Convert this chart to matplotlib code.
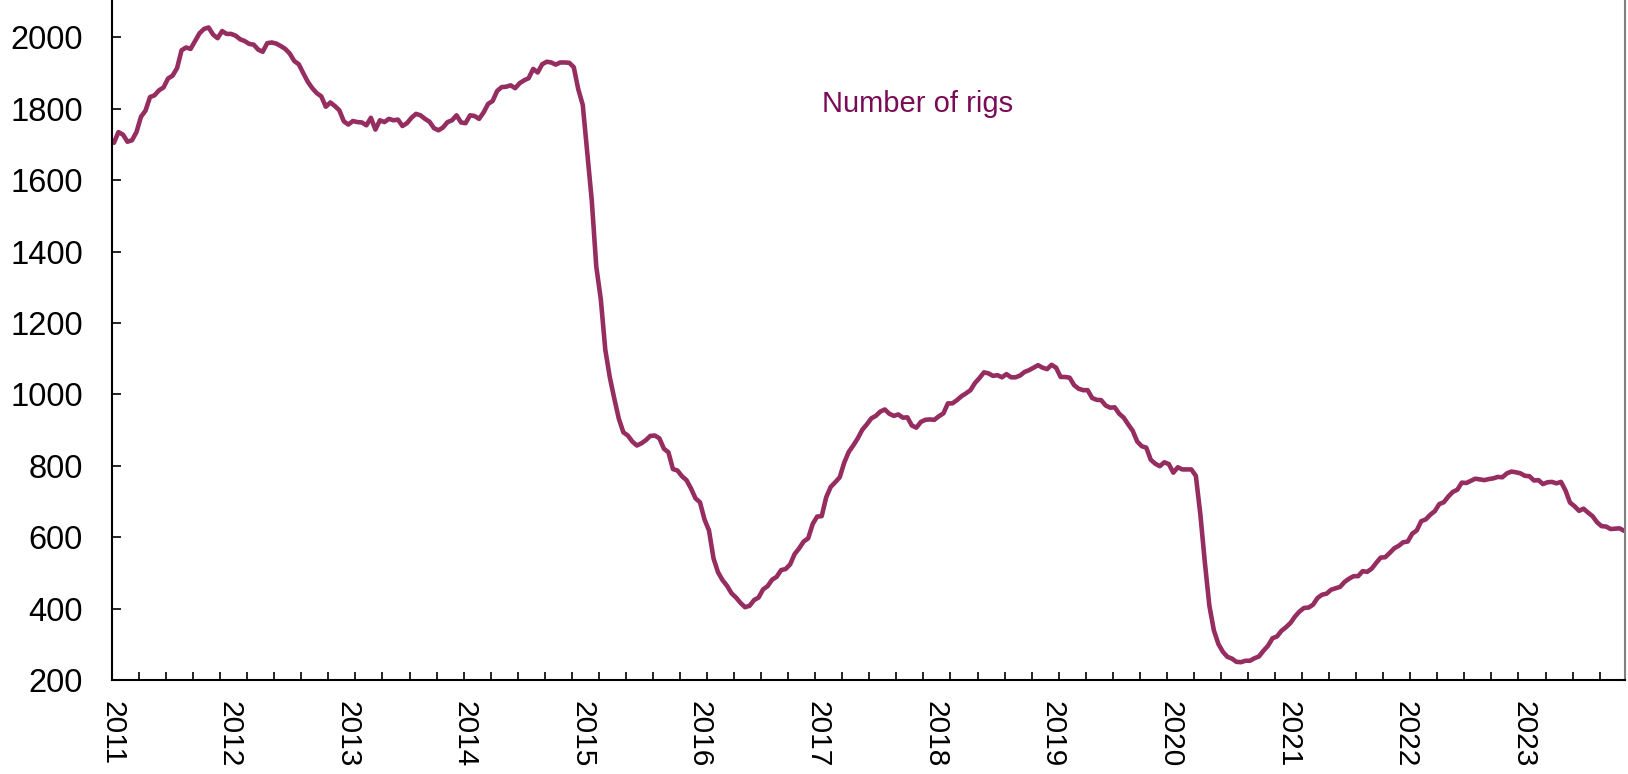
#!/bin/python3

"""
Weekly US rig count, sampled every second report, 2011 to late 2023.
"""

import matplotlib
matplotlib.use("Agg")
import matplotlib.pyplot as plt
import pandas as pd

FIRST_REPORT = "2011-01-07"
REPORT_STEP = "14D"

# One list per year, every second weekly report
RIGS_2011 = [1705, 1735, 1728, 1708, 1712, 1735, 1778, 1795, 1833, 1838, 1852, 1860, 1885,
             1893, 1914, 1964, 1972, 1968, 1990, 2012, 2024, 2028, 2008, 1998, 2018, 2010]
RIGS_2012 = [2010, 2005, 1995, 1990, 1982, 1980, 1966, 1960, 1984, 1986, 1983, 1976, 1968,
             1955, 1934, 1925, 1900, 1876, 1858, 1844, 1835, 1806, 1818, 1808, 1796, 1765]
RIGS_2013 = [1756, 1766, 1763, 1762, 1754, 1775, 1742, 1768, 1763, 1772, 1768, 1770, 1752,
             1760, 1775, 1786, 1782, 1772, 1764, 1746, 1740, 1748, 1763, 1768, 1782, 1762]
RIGS_2014 = [1760, 1782, 1780, 1772, 1790, 1814, 1822, 1850, 1861, 1862, 1866, 1858, 1872,
             1880, 1886, 1912, 1902, 1925, 1932, 1930, 1924, 1930, 1930, 1929, 1917, 1855]
RIGS_2015 = [1811, 1676, 1543, 1358, 1267, 1125, 1048, 988, 932, 894, 885, 868, 857,
             863, 872, 884, 885, 877, 848, 838, 791, 787, 771, 760, 737, 709]
RIGS_2016 = [698, 650, 619, 541, 502, 480, 464, 443, 431, 416, 404, 408, 424,
             431, 454, 463, 481, 489, 508, 511, 524, 553, 569, 588, 597, 637]
RIGS_2017 = [658, 659, 712, 741, 754, 768, 809, 839, 857, 877, 901, 916, 933,
             940, 952, 958, 946, 940, 944, 935, 936, 913, 907, 923, 929, 930]
RIGS_2018 = [929, 939, 947, 975, 975, 984, 995, 1003, 1012, 1032, 1046, 1062, 1059,
             1052, 1054, 1048, 1057, 1048, 1048, 1053, 1063, 1068, 1075, 1082, 1075, 1071]
RIGS_2019 = [1083, 1075, 1049, 1049, 1047, 1026, 1016, 1012, 1012, 990, 985, 984, 969,
             963, 964, 946, 935, 916, 898, 868, 855, 851, 817, 806, 799, 810]
RIGS_2020 = [805, 781, 796, 790, 790, 790, 772, 664, 529, 408, 339, 301, 279,
             265, 260, 251, 250, 254, 254, 261, 266, 282, 296, 317, 322, 338]
RIGS_2021 = [348, 360, 378, 392, 402, 403, 411, 430, 439, 442, 453, 457, 461,
             475, 484, 491, 491, 505, 503, 512, 528, 543, 544, 556, 569, 576]
RIGS_2022 = [586, 588, 610, 619, 645, 650, 663, 673, 693, 698, 714, 727, 733,
             753, 752, 758, 764, 762, 760, 763, 765, 769, 768, 779, 784, 782]
RIGS_2023 = [779, 772, 771, 759, 760, 749, 754, 755, 751, 755, 731, 697, 687,
             674, 680, 669, 659, 642, 631, 630, 623, 624, 625, 618]

YEARLY = [RIGS_2011, RIGS_2012, RIGS_2013, RIGS_2014, RIGS_2015, RIGS_2016, RIGS_2017,
          RIGS_2018, RIGS_2019, RIGS_2020, RIGS_2021, RIGS_2022, RIGS_2023]
YEAR_LABELS = [str(y) for y in range(2011, 2024)]
Y_TICKS = list(range(200, 2001, 200))

LINE_COLOR = "#962D60"
TEXT_COLOR = "#7A0C55"


def main() -> None:
    rigs = [v for year in YEARLY for v in year]
    dates = pd.date_range(FIRST_REPORT, periods=len(rigs), freq=REPORT_STEP)

    plt.rcParams.update({
        "font.family": ["Liberation Sans", "DejaVu Sans"],
        "font.size": 20,
    })
    fig = plt.figure(figsize=(16.28, 7.74), dpi=100)
    ax = fig.add_axes([0.0688, 0.1214, 0.9294, 0.8786])

    ax.plot(dates, rigs, color=LINE_COLOR, linewidth=3.3,
            solid_joinstyle="round", solid_capstyle="round")

    start = pd.Timestamp("2011-01-01")
    ax.set_xlim(start, dates[-1] + pd.Timedelta(days=3))
    ax.set_ylim(200, 2105)

    year_pos = pd.to_datetime([f"{y}-01-01" for y in YEAR_LABELS])
    ax.set_xticks(year_pos, YEAR_LABELS)
    ax.set_xticks(pd.date_range(start, dates[-1], freq="84D"), minor=True)
    ax.tick_params(axis="x", which="major", length=0, pad=15, labelsize=21.5,
                   labelrotation=-90)
    ax.tick_params(axis="x", which="minor", direction="in", length=6, width=1.2)

    ax.set_yticks(Y_TICKS)
    ax.tick_params(axis="y", direction="in", length=6.5, width=1.2, pad=21,
                   labelsize=23.5)

    ax.spines["top"].set_visible(False)
    ax.spines["right"].set_color("#808080")
    ax.spines["right"].set_linewidth(1.5)
    for side in ("left", "bottom"):
        ax.spines[side].set_linewidth(1.5)

    ax.text(0.469, 0.847, "Number of rigs", transform=ax.transAxes,
            ha="left", va="center", fontsize=21, color=TEXT_COLOR)

    fig.savefig("out.png", dpi=100)


if __name__ == "__main__":
    main()
